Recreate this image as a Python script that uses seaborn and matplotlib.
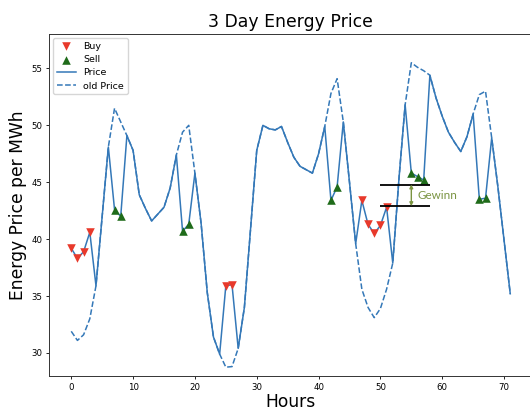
import matplotlib
matplotlib.use("Agg")
import matplotlib.pyplot as plt
import numpy as np
import pandas as pd
import seaborn as sns

# Hourly prices over three days (EUR per MWh)
hours = list(range(72))
price = [
    39.2, 38.3, 38.9, 40.6, 35.9, 42.0, 48.1, 42.6, 42.0, 49.1,
    47.8, 43.9, 42.7, 41.6, 42.2, 42.8, 44.5, 47.4, 40.7, 41.3,
    45.8, 41.4, 35.3, 31.4, 29.9, 35.9, 36.0, 30.4, 34.0, 40.9,
    47.8, 50.0, 49.7, 49.6, 49.9, 48.5, 47.2, 46.4, 46.1, 45.8,
    47.5, 49.9, 43.4, 44.6, 50.3, 45.0, 39.6, 43.4, 41.3, 40.5,
    41.2, 42.8, 37.9, 45.3, 51.8, 45.8, 45.5, 45.2, 54.4, 52.4,
    50.8, 49.4, 48.5, 47.7, 49.0, 51.0, 43.5, 43.6, 48.9, 44.6,
    39.9, 35.2,
]
old_price = [
    31.9, 31.1, 31.6, 33.0, 35.9, 42.0, 48.1, 51.5, 50.3, 49.1,
    47.8, 43.9, 42.7, 41.6, 42.2, 42.8, 44.5, 47.4, 49.4, 50.0,
    45.8, 41.4, 35.3, 31.4, 29.9, 28.75, 28.8, 30.4, 34.0, 40.9,
    47.8, 50.0, 49.7, 49.6, 49.9, 48.5, 47.2, 46.4, 46.1, 45.8,
    47.5, 49.9, 52.8, 54.1, 50.3, 45.0, 39.6, 35.6, 34.0, 33.1,
    33.9, 35.6, 37.9, 45.3, 51.8, 55.5, 55.1, 54.8, 54.4, 52.4,
    50.8, 49.4, 48.5, 47.7, 49.0, 51.0, 52.7, 53.0, 48.9, 44.6,
    39.9, 35.2,
]
buy_hours = [0, 1, 2, 3, 25, 26, 47, 48, 49, 50, 51]
sell_hours = [7, 8, 18, 19, 42, 43, 55, 56, 57, 66, 67]

# Profit band: average buy level vs. average sell level
buy_level = 42.9
sell_level = 44.8
band_start, band_end = 50, 58
arrow_hour = 55
label_hour = 56

df = pd.DataFrame({"hour": hours, "price": price, "old": old_price})
buys = df[df["hour"].isin(buy_hours)]
sells = df[df["hour"].isin(sell_hours)]

W, H = 530, 413
fig = plt.figure(figsize=(W / 100, H / 100), dpi=100)
ax = fig.add_axes([49.3 / W, 1 - 375.7 / H, (532.2 - 49.3) / W, (375.7 - 34.3) / H])

blue = "#3478b8"
sns.lineplot(data=df, x="hour", y="old", ax=ax, color=blue, lw=1.1,
             linestyle="--", label="old Price", zorder=2)
sns.lineplot(data=df, x="hour", y="price", ax=ax, color=blue, lw=1.1,
             label="Price", zorder=3)
sns.scatterplot(data=buys, x="hour", y="price", ax=ax, marker="v", s=38,
                color="#e8392b", linewidth=0, label="Buy", zorder=4)
sns.scatterplot(data=sells, x="hour", y="price", ax=ax, marker="^", s=38,
                color="#1f6b1a", linewidth=0, label="Sell", zorder=4)

# Profit annotation
olive = "#7a9441"
ax.hlines([buy_level, sell_level], band_start, band_end, colors="black", lw=1.3, zorder=5)
ax.annotate("", xy=(arrow_hour, sell_level), xytext=(arrow_hour, buy_level),
            arrowprops=dict(arrowstyle="<|-|>", color=olive, lw=1.0,
                            mutation_scale=5, shrinkA=0, shrinkB=0), zorder=5)
ax.text(label_hour, (buy_level + sell_level) / 2, "Gewinn", color=olive,
        fontsize=8.4, va="center", ha="left", family=["Lato", "DejaVu Sans"])

ax.set_ylim(28, 58)
ax.set_xlim(-3.55, 74.55)
ax.set_xticks([0, 10, 20, 30, 40, 50, 60, 70])
ax.set_yticks([30, 35, 40, 45, 50, 55])
ax.tick_params(labelsize=6.2, length=2.4, width=0.6, pad=2.5)
for sp in ax.spines.values():
    sp.set_linewidth(0.7)
    sp.set_color("#333333")

ax.set_title("3 Day Energy Price", fontsize=12.4, pad=5)
ax.set_xlabel("Hours", fontsize=12.3, labelpad=1)
ax.set_ylabel("Energy Price per MWh", fontsize=12.3, labelpad=3)

handles, labels = ax.get_legend_handles_labels()
order = ["Buy", "Sell", "Price", "old Price"]
lookup = dict(zip(labels, handles))
ax.legend([lookup[k] for k in order], order, loc="upper left", fontsize=6.8,
          borderaxespad=0.4, handlelength=2.0, labelspacing=0.45)

fig.savefig("out.png", dpi=100)
